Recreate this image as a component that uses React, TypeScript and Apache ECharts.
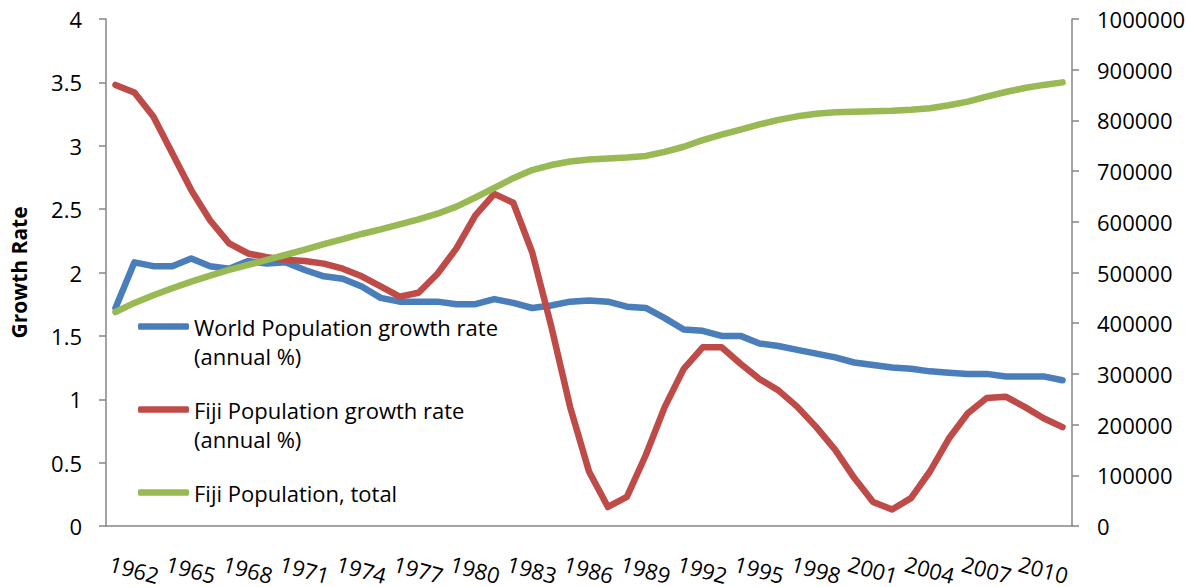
import React, { useEffect, useRef } from "react";
import * as echarts from "echarts";

const years = [
  "1961", "1962", "1963", "1964", "1965", "1966", "1967", "1968", "1969", "1970",
  "1971", "1972", "1973", "1974", "1975", "1976", "1977", "1978", "1979", "1980",
  "1981", "1982", "1983", "1984", "1985", "1986", "1987", "1988", "1989", "1990",
  "1991", "1992", "1993", "1994", "1995", "1996", "1997", "1998", "1999", "2000",
  "2001", "2002", "2003", "2004", "2005", "2006", "2007", "2008", "2009", "2010",
  "2011",
];

const worldGrowth = [
  1.72, 2.08, 2.05, 2.05, 2.11, 2.05, 2.03, 2.09, 2.07, 2.08,
  2.02, 1.97, 1.95, 1.89, 1.8, 1.77, 1.77, 1.77, 1.75, 1.75,
  1.79, 1.76, 1.72, 1.74, 1.77, 1.78, 1.77, 1.73, 1.72, 1.64,
  1.55, 1.54, 1.5, 1.5, 1.44, 1.42, 1.39, 1.36, 1.33, 1.29,
  1.27, 1.25, 1.24, 1.22, 1.21, 1.2, 1.2, 1.18, 1.18, 1.18,
  1.15,
];

const fijiGrowth = [
  3.48, 3.42, 3.23, 2.94, 2.65, 2.41, 2.23, 2.15, 2.12, 2.1,
  2.09, 2.07, 2.03, 1.97, 1.89, 1.81, 1.84, 1.99, 2.19, 2.45,
  2.62, 2.55, 2.16, 1.58, 0.94, 0.43, 0.15, 0.23, 0.56, 0.94,
  1.24, 1.41, 1.41, 1.28, 1.16, 1.07, 0.94, 0.78, 0.6, 0.38,
  0.19, 0.13, 0.22, 0.43, 0.69, 0.89, 1.01, 1.02, 0.94, 0.85,
  0.78,
];

const fijiTotal = [
  422000, 440000, 455000, 469000, 482000, 494000, 505000, 515000, 525000, 535000,
  545000, 556000, 566000, 576000, 585000, 595000, 605000, 616000, 630000, 648000,
  667000, 686000, 702000, 712000, 719000, 723000, 725000, 727000, 730000, 738000,
  748000, 761000, 772000, 782000, 792000, 801000, 808000, 813000, 816000, 817000,
  818000, 819000, 821000, 824000, 830000, 837000, 847000, 856000, 864000, 870000,
  875000,
];

const seriesNames = [
  "World Population growth rate (annual %)",
  "Fiji Population growth rate (annual %)",
  "Fiji Population, total",
];

const legendLabels: Record<string, string> = {
  "World Population growth rate (annual %)": "\nWorld Population growth rate\n(annual %)",
  "Fiji Population growth rate (annual %)": "\nFiji Population growth rate\n(annual %)",
  "Fiji Population, total": "\nFiji Population, total\n",
};

const colors = ["#4A7EBB", "#BE4B48", "#98B954"];
const FONT = "Open Sans";

export default function App() {
  const ref = useRef<HTMLDivElement>(null);

  useEffect(() => {
    document.body.style.margin = "0";
    if (!ref.current) return;
    const chart = echarts.init(ref.current, null, { renderer: "svg" });
    const axisLineStyle = { color: "#868686", width: 1.5 };
    const lineSeries = (name: string, data: number[], color: string, yAxisIndex: number) => ({
      name,
      type: "line",
      data,
      yAxisIndex,
      showSymbol: false,
      symbol: "none",
      smooth: false,
      lineStyle: { color, width: 6.5, cap: "round", join: "round" },
      itemStyle: { color },
      emphasis: { disabled: true },
    });
    chart.setOption({
      animation: false,
      textStyle: { fontFamily: FONT },
      grid: {
        left: 106,
        right: 114,
        top: 19,
        bottom: 61,
        containLabel: false,
        outerBoundsMode: "none",
      },
      legend: {
        orient: "vertical",
        left: 138,
        top: 283,
        padding: 0,
        itemGap: -4,
        itemWidth: 51,
        itemHeight: 6.5,
        icon: "roundRect",
        selectedMode: false,
        data: seriesNames,
        formatter: (name: string) => legendLabels[name] ?? name,
        textStyle: { fontFamily: FONT, fontSize: 22, lineHeight: 29, color: "#000" },
      },
      xAxis: {
        type: "category",
        data: years,
        boundaryGap: true,
        axisLine: { lineStyle: axisLineStyle },
        axisTick: { interval: 0, length: 7, lineStyle: axisLineStyle },
        axisLabel: {
          interval: (index: number) => index % 3 === 1,
          rotate: -15,
          align: "center",
          verticalAlign: "middle",
          margin: 43,
          fontFamily: FONT,
          fontSize: 22,
          lineHeight: 22,
          color: "#000",
        },
        splitLine: { show: false },
      },
      yAxis: [
        {
          type: "value",
          min: 0,
          max: 4,
          interval: 0.5,
          name: "Growth Rate",
          nameLocation: "middle",
          nameRotate: 90,
          nameGap: 77,
          nameTextStyle: { fontFamily: FONT, fontSize: 21, fontWeight: "bold", color: "#000" },
          axisLine: { show: true, lineStyle: axisLineStyle },
          axisTick: { show: true, length: 7, lineStyle: axisLineStyle },
          axisLabel: { margin: 24, fontFamily: FONT, fontSize: 22, color: "#000" },
          splitLine: { show: false },
        },
        {
          type: "value",
          min: 0,
          max: 1000000,
          interval: 100000,
          position: "right",
          axisLine: { show: true, lineStyle: axisLineStyle },
          axisTick: { show: true, length: 7, lineStyle: axisLineStyle },
          axisLabel: {
            margin: 25,
            fontFamily: FONT,
            fontSize: 22,
            color: "#000",
            formatter: (v: number) => String(v),
          },
          splitLine: { show: false },
        },
      ],
      series: [
        lineSeries(seriesNames[0], worldGrowth, colors[0], 0),
        lineSeries(seriesNames[1], fijiGrowth, colors[1], 0),
        lineSeries(seriesNames[2], fijiTotal, colors[2], 1),
      ],
    });
    return () => chart.dispose();
  }, []);

  return <div ref={ref} style={{ width: 1186, height: 587 }} />;
}
